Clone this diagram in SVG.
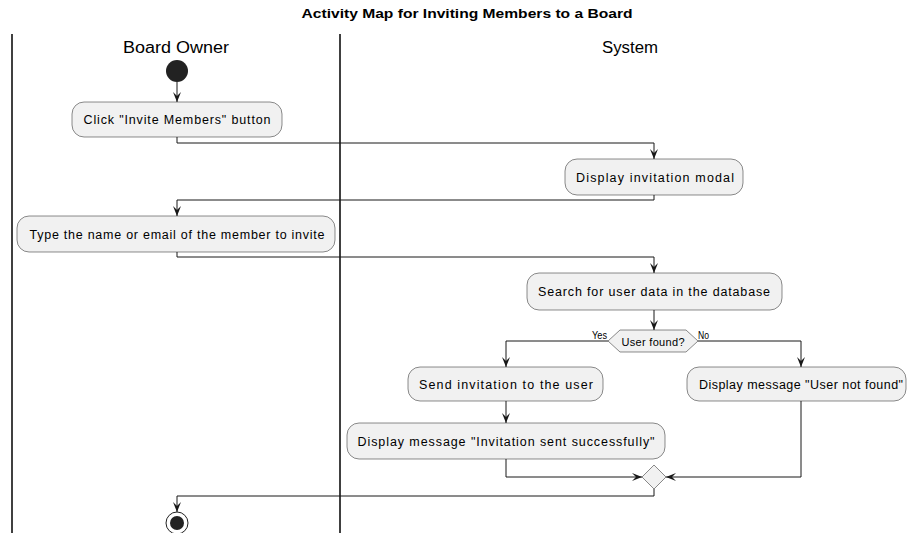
<svg xmlns="http://www.w3.org/2000/svg" width="907" height="533" viewBox="0 0 907 533">
<style>
  .lane { stroke: #000; stroke-width: 1.5; }
  .box { fill: #F1F1F1; stroke: #181818; stroke-width: 0.5; }
  .t { font-family: "Liberation Sans", Arial, sans-serif; font-size: 12.5px; fill: #000; text-anchor: middle; }
  .hdr { font-family: "Liberation Sans", Arial, sans-serif; font-size: 16px; fill: #000; text-anchor: middle; }
  .title { font-family: "Liberation Sans", Arial, sans-serif; font-size: 12px; font-weight: bold; fill: #000; text-anchor: middle; }
  .lbl { font-family: "Liberation Sans", Arial, sans-serif; font-size: 10px; fill: #000; }
  .edge { fill: none; stroke: #181818; stroke-width: 1; marker-end: url(#arr); }
</style>
<defs>
  <marker id="arr" viewBox="0 0 10 10" refX="10" refY="5" markerWidth="10" markerHeight="10" markerUnits="userSpaceOnUse" orient="auto">
    <path d="M0,1 L10,5 L0,9 L4,5 Z" fill="#181818"/>
  </marker>
</defs>
<rect width="907" height="533" fill="#FFFFFF"/>
<text class="title" x="467" y="18" textLength="331" lengthAdjust="spacingAndGlyphs">Activity Map for Inviting Members to a Board</text>
<g id="lanes">
  <line class="lane" x1="12" y1="34" x2="12" y2="533"/>
  <line class="lane" x1="340" y1="34" x2="340" y2="533"/>
  <text class="hdr" x="176" y="53" textLength="106" lengthAdjust="spacingAndGlyphs">Board Owner</text>
  <text class="hdr" x="630" y="53" textLength="56" lengthAdjust="spacingAndGlyphs">System</text>
</g>
<g id="connectors">
  <path class="edge" d="M177,82 L177,102"/>
  <path class="edge" d="M177,137 L177,143 L654,143 L654,159"/>
  <path class="edge" d="M654,195 L654,200 L177,200 L177,216"/>
  <path class="edge" d="M177,252 L177,257 L654,257 L654,273"/>
  <path class="edge" d="M654,310 L654,330"/>
  <path class="edge" d="M608,341 L506,341 L506,367"/>
  <path class="edge" d="M698,341 L801,341 L801,367"/>
  <path class="edge" d="M506,401 L506,423"/>
  <path class="edge" d="M506,459 L506,477 L642,477"/>
  <path class="edge" d="M801,401 L801,477 L666,477"/>
  <path class="edge" d="M654,489 L654,496 L177,496 L177,512"/>
</g>
<g id="start">
  <circle cx="177" cy="71" r="11" fill="#222222"/>
</g>
<g id="click_invite">
  <rect class="box" x="72" y="102" width="210" height="35" rx="12"/>
  <text class="t" x="177" y="124" textLength="187" lengthAdjust="spacing">Click "Invite Members" button</text>
</g>
<g id="display_modal">
  <rect class="box" x="565" y="159" width="178" height="36" rx="12"/>
  <text class="t" x="655" y="182" textLength="158" lengthAdjust="spacing">Display invitation modal</text>
</g>
<g id="type_name">
  <rect class="box" x="17" y="216" width="318" height="36" rx="12"/>
  <text class="t" x="177" y="239" textLength="295" lengthAdjust="spacing">Type the name or email of the member to invite</text>
</g>
<g id="search_user">
  <rect class="box" x="527" y="273" width="255" height="37" rx="12"/>
  <text class="t" x="654" y="296" textLength="232" lengthAdjust="spacing">Search for user data in the database</text>
</g>
<g id="user_found">
  <polygon class="box" points="608,341 620,330 686,330 698,341 686,352 620,352"/>
  <text class="t" x="653" y="346" style="font-size:11px" textLength="63" lengthAdjust="spacing">User found?</text>
  <text class="lbl" x="592" y="339" textLength="15" lengthAdjust="spacingAndGlyphs">Yes</text>
  <text class="lbl" x="698" y="339" textLength="11" lengthAdjust="spacingAndGlyphs">No</text>
</g>
<g id="send_invitation">
  <rect class="box" x="408" y="367" width="195" height="34" rx="12"/>
  <text class="t" x="506" y="389" textLength="174" lengthAdjust="spacing">Send invitation to the user</text>
</g>
<g id="user_not_found">
  <rect class="box" x="687" y="367" width="219" height="34" rx="12"/>
  <text class="t" x="801" y="389" textLength="204" lengthAdjust="spacing">Display message "User not found"</text>
</g>
<g id="invitation_sent">
  <rect class="box" x="347" y="423" width="318" height="36" rx="12"/>
  <text class="t" x="506" y="446" textLength="297" lengthAdjust="spacing">Display message "Invitation sent successfully"</text>
</g>
<g id="merge">
  <polygon class="box" points="654,465 666,477 654,489 642,477"/>
</g>
<g id="end">
  <circle cx="177" cy="523" r="11" fill="none" stroke="#222222" stroke-width="1"/>
  <circle cx="177" cy="523" r="7" fill="#222222"/>
</g>
</svg>
